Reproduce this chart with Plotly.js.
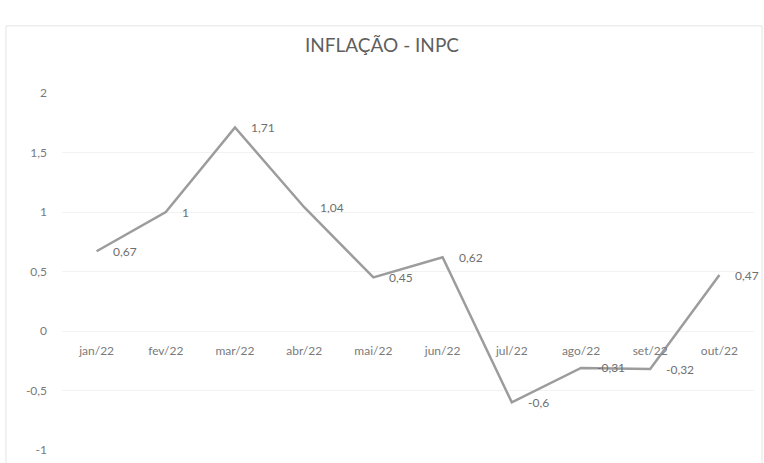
<!DOCTYPE html>
<html>
<head>
<meta charset="utf-8">
<script src="https://cdn.plot.ly/plotly-3.0.1.min.js"></script>
<style>html,body{margin:0;padding:0;background:#fff}#chart{width:764px;height:463px}</style>
</head>
<body>
<div id="chart"></div>
<script>
const months = ["jan/22","fev/22","mar/22","abr/22","mai/22","jun/22","jul/22","ago/22","set/22","out/22"];
const inpc = [0.67, 1.00, 1.71, 1.04, 0.45, 0.62, -0.60, -0.31, -0.32, 0.47];
const yTickVals = [-1, -0.5, 0, 0.5, 1, 1.5, 2];
const yTickText = ["-1", "-0,5", "0", "0,5", "1", "1,5", "2"];
const labels = inpc.map(v => String(v).replace('.', ','));

const FONT = 'Lato, "Open Sans", sans-serif';

const trace = {
  x: months, y: inpc, type: 'scatter', mode: 'lines',
  line: {color: '#9c9c9c', width: 2.5},
  hoverinfo: 'skip'
};

const annotations = months.map((m, i) => ({
  x: m, y: inpc[i], xref: 'x', yref: 'y', text: labels[i],
  showarrow: false, xanchor: 'left', yanchor: 'middle', xshift: 14,
  font: {family: FONT, size: 12, color: '#6f6f6f'}
}));

const layout = {
  width: 764, height: 463,
  margin: {l: 62, r: 10, t: 93, b: 13},
  paper_bgcolor: '#ffffff', plot_bgcolor: '#ffffff',
  showlegend: false,
  title: {text: 'INFLAÇÃO - INPC', x: 0.5, xref: 'container', xanchor: 'center',
          y: 1 - 45/463, yref: 'container', yanchor: 'middle',
          font: {family: FONT, size: 19, color: '#5f5f5f'}},
  xaxis: {type: 'category', range: [-0.5, 9.5], anchor: 'free', position: 0.336,
          showgrid: false, zeroline: false, showline: false,
          ticks: 'outside', ticklen: 10, tickcolor: 'rgba(0,0,0,0)',
          tickfont: {family: FONT, size: 12, color: '#7a7a7a'}},
  yaxis: {range: [-1, 2], tickvals: yTickVals, ticktext: yTickText,
          showgrid: true, gridcolor: '#f2f2f2', gridwidth: 1, zeroline: false, showline: false,
          ticklabelstandoff: 14,
          tickfont: {family: FONT, size: 12, color: '#7a7a7a'}},
  annotations: annotations,
  shapes: [{type: 'rect', xref: 'paper', yref: 'paper', x0: -0.081, x1: 1.0116, y0: -0.2, y1: 1.188,
            line: {color: '#e4e4e4', width: 1}, fillcolor: 'rgba(0,0,0,0)', layer: 'below'}]
};

Plotly.newPlot('chart', [trace], layout, {staticPlot: true, displayModeBar: false});
</script>
</body>
</html>
